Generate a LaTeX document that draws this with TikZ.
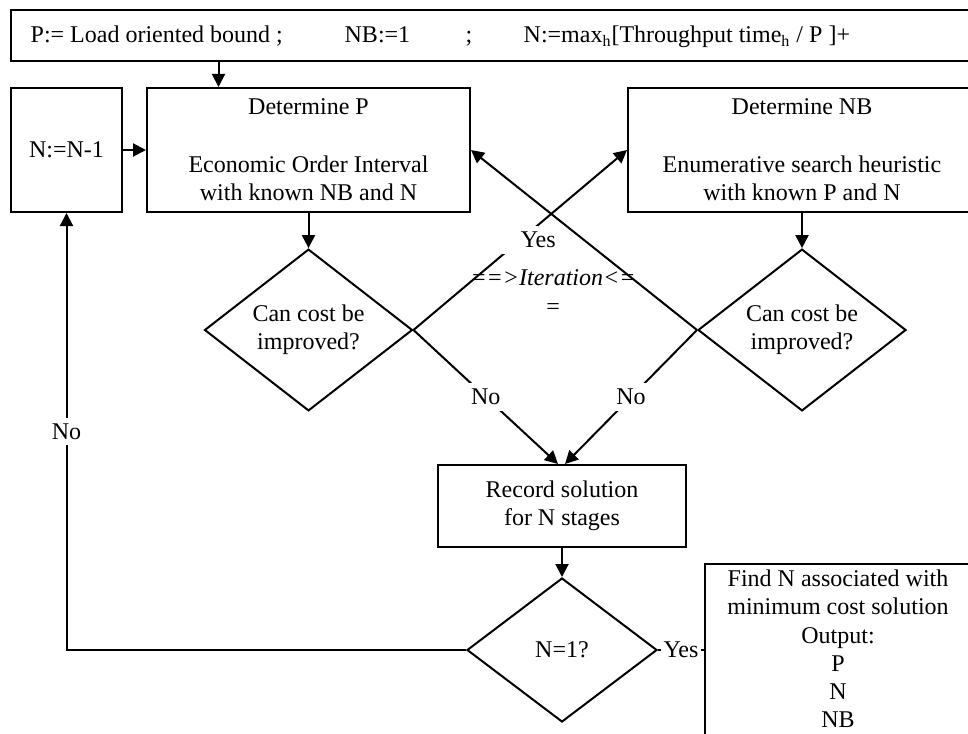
\documentclass[tikz,border=0pt]{standalone}
\usepackage{fontspec}
\setmainfont{Liberation Serif}
\usetikzlibrary{shapes.geometric, arrows.meta, positioning}

\begin{document}
\begin{tikzpicture}[x=0.5pt, y=-0.5pt, font=\fontsize{12}{14}\selectfont, line width=1pt,
		>={Triangle[length=6.5pt,width=6.5pt]},
		block/.style={draw, rectangle, align=center, inner sep=0pt},
		decision/.style={draw, diamond, align=center, inner sep=0pt},
		lbl/.style={fill=white, inner sep=3pt}]
				\useasboundingbox (0,0) rectangle (968,733);
				\clip (0,0) rectangle (968,733);
				% Initial values
				\node[block, minimum width=490pt, minimum height=25.5pt, anchor=north west] (init) at (10,9) {};
				\node[anchor=base west] (initP) at (23,43) {P:= Load oriented bound ;};
				\node[anchor=base west] (initNB) at (337,43) {NB:=1};
				\node[anchor=base] (initsemi) at (469,43) {;};
				\node[anchor=base west] (initN) at (516,43) {N:=max\textsubscript{h}[Throughput time\textsubscript{h} / P ]+};
				% Steps of the loop
				\node[block, minimum width=55.5pt, minimum height=62pt] (dec) at (66.5,150) {N:=N-1};
				\node[block, minimum width=161.5pt, minimum height=62pt] (detP) at (308.5,150) {Determine P\\[15pt]Economic Order Interval\\with known NB and N};
				\node[block, minimum width=174pt, minimum height=62pt] (detNB) at (802,150) {Determine NB\\[15pt]Enumerative search heuristic\\with known P and N};
				\node[decision, minimum width=104pt, minimum height=77pt] (costP) at (308.5,330) {Can cost be\\improved?};
				\node[decision, minimum width=104pt, minimum height=77pt] (costNB) at (802,330) {Can cost be\\improved?};
				\node[font=\fontsize{12}{14.5}\selectfont\itshape, align=center] (iter) at (553,292) {==>Iteration<=\\=};
				\node[block, minimum width=124pt, minimum height=41pt] (record) at (562,506) {Record solution\\for N stages};
				\node[decision, minimum width=95pt, minimum height=72pt] (test) at (562,650) {N=1?};
				\node[block, minimum width=133pt, minimum height=99pt, anchor=north, font=\fontsize{12}{14.1}\selectfont] (result) at (838,563) {Find N associated with\\minimum cost solution\\Output:\\P\\N\\NB\\ \mbox{}};
				% Arrows
				\coordinate (detPin) at ([xshift=-45pt]detP.north);
				\draw[->] (init.south -| detPin) -- (detPin);
				\draw[->] (dec) -- (detP);
				\draw[->] (detP) -- (costP);
				\draw[->] (detNB) -- (costNB);
				\draw[->] (costP.east) -- node[lbl, pos=.5, xshift=9pt, inner xsep=10pt] {Yes} (detNB.west);
				\draw[->] (costNB.west) -- (detP.east);
				\draw[->] (costP.east) -- node[lbl] {No} ([xshift=-2pt]record.north);
				\draw[->] (costNB.west) -- node[lbl] {No} ([xshift=1.5pt]record.north);
				\draw[->] (record) -- (test);
				\draw[->] (test.west) -| node[lbl, pos=.75] {No} (dec.south);
				\draw (test.east) -- node[lbl, inner sep=1.5pt] {Yes} (result.west |- test.east);
			\end{tikzpicture}
\end{document}
